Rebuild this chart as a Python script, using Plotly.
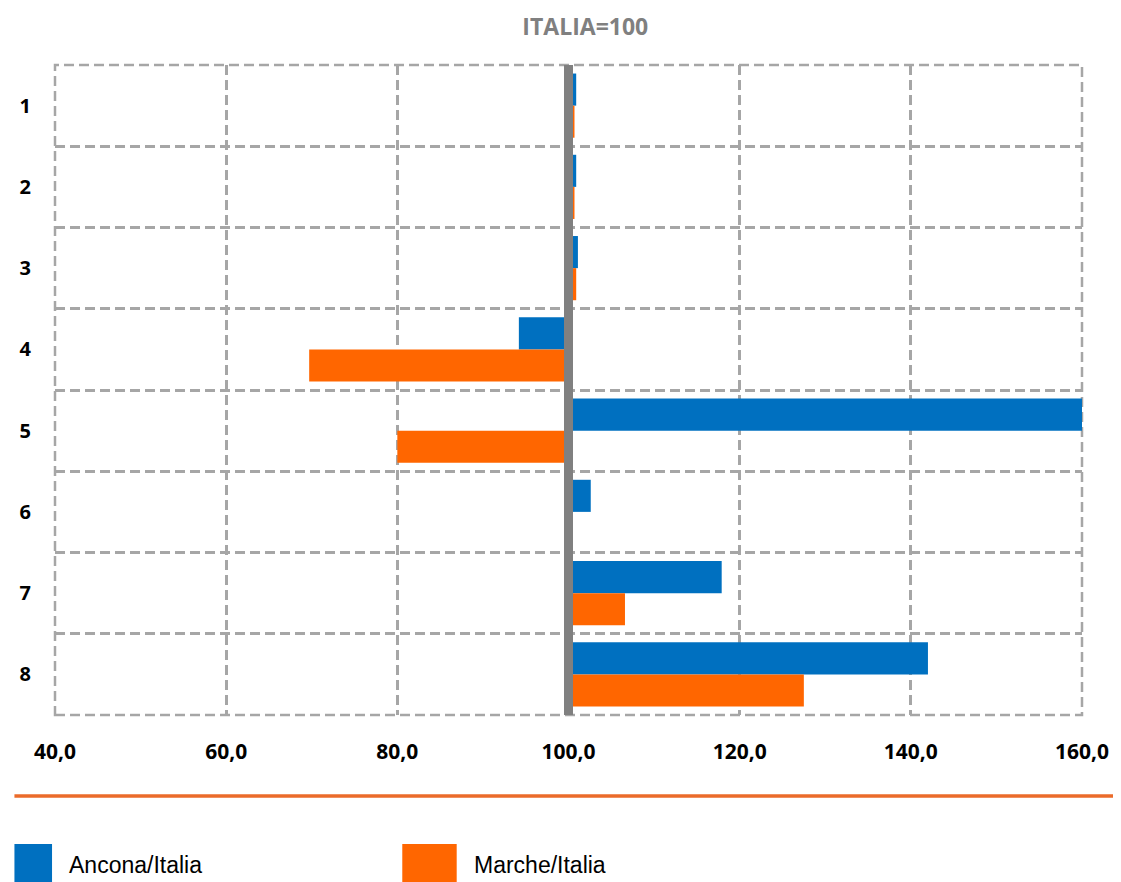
import plotly.graph_objects as go

# categories top to bottom, values are index numbers with ITALIA = 100
categories = ["1", "2", "3", "4", "5", "6", "7", "8"]

ancona_italia = [100.9, 100.9, 101.1, 94.2, 160.0, 102.6, 117.9, 142.0]

marche_italia = [100.7, 100.7, 100.9, 69.7, 80.0, 100.0, 106.6, 127.5]

x_ticks = [40, 60, 80, 100, 120, 140, 160]

BASE = 100

BLUE = "#0070C0"
ORANGE = "#FF6600"
GRID = "#A6A6A6"
DASH = "10px,5px"

# page offset of the figure inside the browser window
W, H = 1113, 874
L, R, T, B = 41, 34, 57, 167
PW, PH = W - L - R, H - T - B


def px_x(px):

    """
    Figure pixel -> paper x
    """

    return (px - L) / PW


def px_y(py):

    """
    Figure pixel (from top) -> paper y
    """

    return (H - B - py) / PH


def make_bar(values, name, color):

    """
    Bars that grow from the ITALIA=100 baseline
    """

    return go.Bar(

        y=categories,

        x=[v - BASE for v in values],

        base=BASE,

        orientation="h",

        marker=dict(color=color, line=dict(width=0)),

        name=name,

        showlegend=False
    )


fig = go.Figure()

fig.add_trace(make_bar(ancona_italia, "Ancona/Italia", BLUE))

fig.add_trace(make_bar(marche_italia, "Marche/Italia", ORANGE))

# dashed frame round the plot area
fig.add_shape(

    type="rect",

    xref="paper", yref="paper",

    x0=0, x1=1, y0=0, y1=1,

    line=dict(color=GRID, width=2.5, dash=DASH),

    layer="below"
)

# baseline at 100
fig.add_shape(

    type="line",

    xref="x", yref="paper",

    x0=BASE, x1=BASE, y0=0, y1=1,

    line=dict(color="#808080", width=9),

    layer="above"
)

# orange separator under the axis labels
fig.add_shape(

    type="line",

    xref="paper", yref="paper",

    x0=px_x(0), x1=px_x(W),

    y0=px_y(788), y1=px_y(788),

    line=dict(color="#EB6B2A", width=3.5)
)

# hand made legend (large square swatches)
legend_items = [("Ancona/Italia", BLUE, 0, 38), ("Marche/Italia", ORANGE, 392, 447)]

for label, color, px0, px1 in legend_items:

    fig.add_shape(

        type="rect",

        xref="paper", yref="paper",

        x0=px_x(px0), x1=px_x(px1),

        y0=px_y(H + 2), y1=px_y(836),

        fillcolor=color,

        line=dict(width=0)
    )

    fig.add_annotation(

        xref="paper", yref="paper",

        x=px_x(px1 + 15), y=px_y(857),

        xanchor="left", yanchor="middle",

        text=label,

        showarrow=False,

        font=dict(family="Liberation Sans", size=23, color="#000000")
    )

fig.update_layout(

    title=dict(

        text="<b>ITALIA=100</b>",

        x=px_x(577), xref="paper", xanchor="center",

        y=1 - 19 / H, yref="container", yanchor="middle",

        font=dict(family="Open Sans", size=23, color="#808080")
    ),

    barmode="group",

    bargap=0.21,

    bargroupgap=0,

    separators=",.",

    width=W,

    height=H,

    margin=dict(l=L, r=R, t=T, b=B),

    paper_bgcolor="white",

    plot_bgcolor="white",

    font=dict(family="Open Sans", color="#000000")
)

fig.update_xaxes(

    range=[40, 160],

    tickvals=x_ticks,

    tickformat=".1f",

    showgrid=True,

    gridcolor=GRID,

    gridwidth=2.5,

    griddash=DASH,

    zeroline=False,

    showline=False,

    ticks="",

    ticklabelstandoff=22,

    tickfont=dict(family="Open Sans", size=21, color="#000000", weight="bold")
)

fig.update_yaxes(

    autorange="reversed",

    type="category",

    tickson="boundaries",

    showgrid=True,

    gridcolor=GRID,

    gridwidth=2.5,

    griddash=DASH,

    zeroline=False,

    showline=False,

    ticks="",

    ticklabelstandoff=23,

    tickfont=dict(family="Open Sans", size=20, color="#000000", weight="bold")
)

fig.write_html("out.html")
